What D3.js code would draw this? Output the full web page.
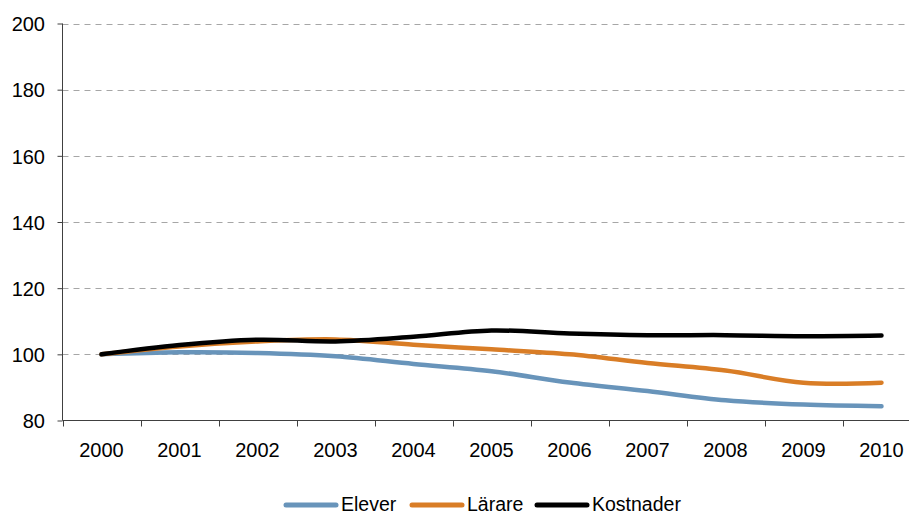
<!DOCTYPE html>
<html><head><meta charset="utf-8">
<script src="https://cdn.jsdelivr.net/npm/d3@7"></script>
<style>body{margin:0;background:#fff}svg{display:block;font-family:"Liberation Sans",Arial,sans-serif}</style>
</head><body><svg id="c" width="911" height="515"></svg>
<script>
const years = ["2000","2001","2002","2003","2004","2005","2006","2007","2008","2009","2010"];
const elever = [100, 100.6, 100.4, 99.4, 97.1, 94.9, 91.5, 88.9, 86.1, 84.8, 84.3];
const larare = [100, 102.4, 103.9, 104.5, 102.9, 101.5, 100.0, 97.4, 95.1, 91.4, 91.4];
const kostnader = [100, 102.8, 104.4, 103.9, 105.3, 107.2, 106.3, 105.8, 105.8, 105.5, 105.7];
const yTicks = [80, 100, 120, 140, 160, 180, 200];
const seriesNames = ["Elever", "Lärare", "Kostnader"];
const seriesColors = ["#6894ba", "#d97d26", "#000000"];

const svg = d3.select("#c");
const pLeft = 62.5, pTop = 23.5, pBottom = 420.5, pRight = 909;
const x = d3.scaleBand().domain(years).range([pLeft, pLeft + 11 * 78]);
const y = d3.scaleLinear().domain([80, 200]).range([pBottom, pTop]);

// gridlines
svg.append("g").selectAll("line").data(yTicks.filter(d => d > 80)).join("line")
  .attr("x1", pLeft).attr("x2", pRight)
  .attr("y1", d => Math.round(y(d)) + 0.5).attr("y2", d => Math.round(y(d)) + 0.5)
  .attr("stroke", "#a6a6a6").attr("stroke-width", 1).attr("stroke-dasharray", "6,5");

// y axis
const yAxis = svg.append("g").attr("transform", `translate(${pLeft},0)`)
  .call(d3.axisLeft(y).tickValues(yTicks).tickSize(5).tickPadding(12.5).tickFormat(d3.format("d")));
yAxis.select(".domain").attr("stroke", "#404040").attr("d", `M0,${pTop}V${pBottom}`);
yAxis.selectAll(".tick line").attr("stroke", "#404040");
yAxis.selectAll(".tick text").attr("font-size", 20).attr("fill", "#000").attr("dy", "0.36em")
  .attr("font-family", "Liberation Sans, Arial, sans-serif");

// x axis
const xg = svg.append("g").attr("transform", `translate(0,${pBottom})`);
xg.append("line").attr("x1", pLeft).attr("x2", pRight).attr("y1", 0).attr("y2", 0).attr("stroke", "#404040");
xg.selectAll("line.tk").data(years).join("line").attr("class", "tk")
  .attr("x1", d => Math.round(x(d)) + 0.5).attr("x2", d => Math.round(x(d)) + 0.5)
  .attr("y1", 0).attr("y2", 6).attr("stroke", "#404040");
xg.selectAll("text").data(years).join("text")
  .attr("x", d => x(d) + x.bandwidth() / 2).attr("y", 36)
  .attr("text-anchor", "middle").attr("font-size", 20).attr("fill", "#000").text(d => d);

// lines
const allSeries = [elever, larare, kostnader];
const line = d3.line().x((d, i) => x(years[i]) + x.bandwidth() / 2).y(d => y(d)).curve(d3.curveCatmullRom.alpha(0.5));
allSeries.forEach((s, k) => {
  svg.append("path").datum(s).attr("d", line).attr("fill", "none")
    .attr("stroke", seriesColors[k]).attr("stroke-width", 4.5)
    .attr("stroke-linecap", "round").attr("stroke-linejoin", "round");
});

// legend
const legX = [286, 412, 537];
const lg = svg.append("g");
seriesNames.forEach((n, k) => {
  lg.append("line").attr("x1", legX[k]).attr("x2", legX[k] + 50).attr("y1", 505).attr("y2", 505)
    .attr("stroke", seriesColors[k]).attr("stroke-width", 5).attr("stroke-linecap", "round");
  lg.append("text").attr("x", legX[k] + 55).attr("y", 511).attr("font-size", 19.5).attr("fill", "#000").text(n);
});
</script></body></html>
